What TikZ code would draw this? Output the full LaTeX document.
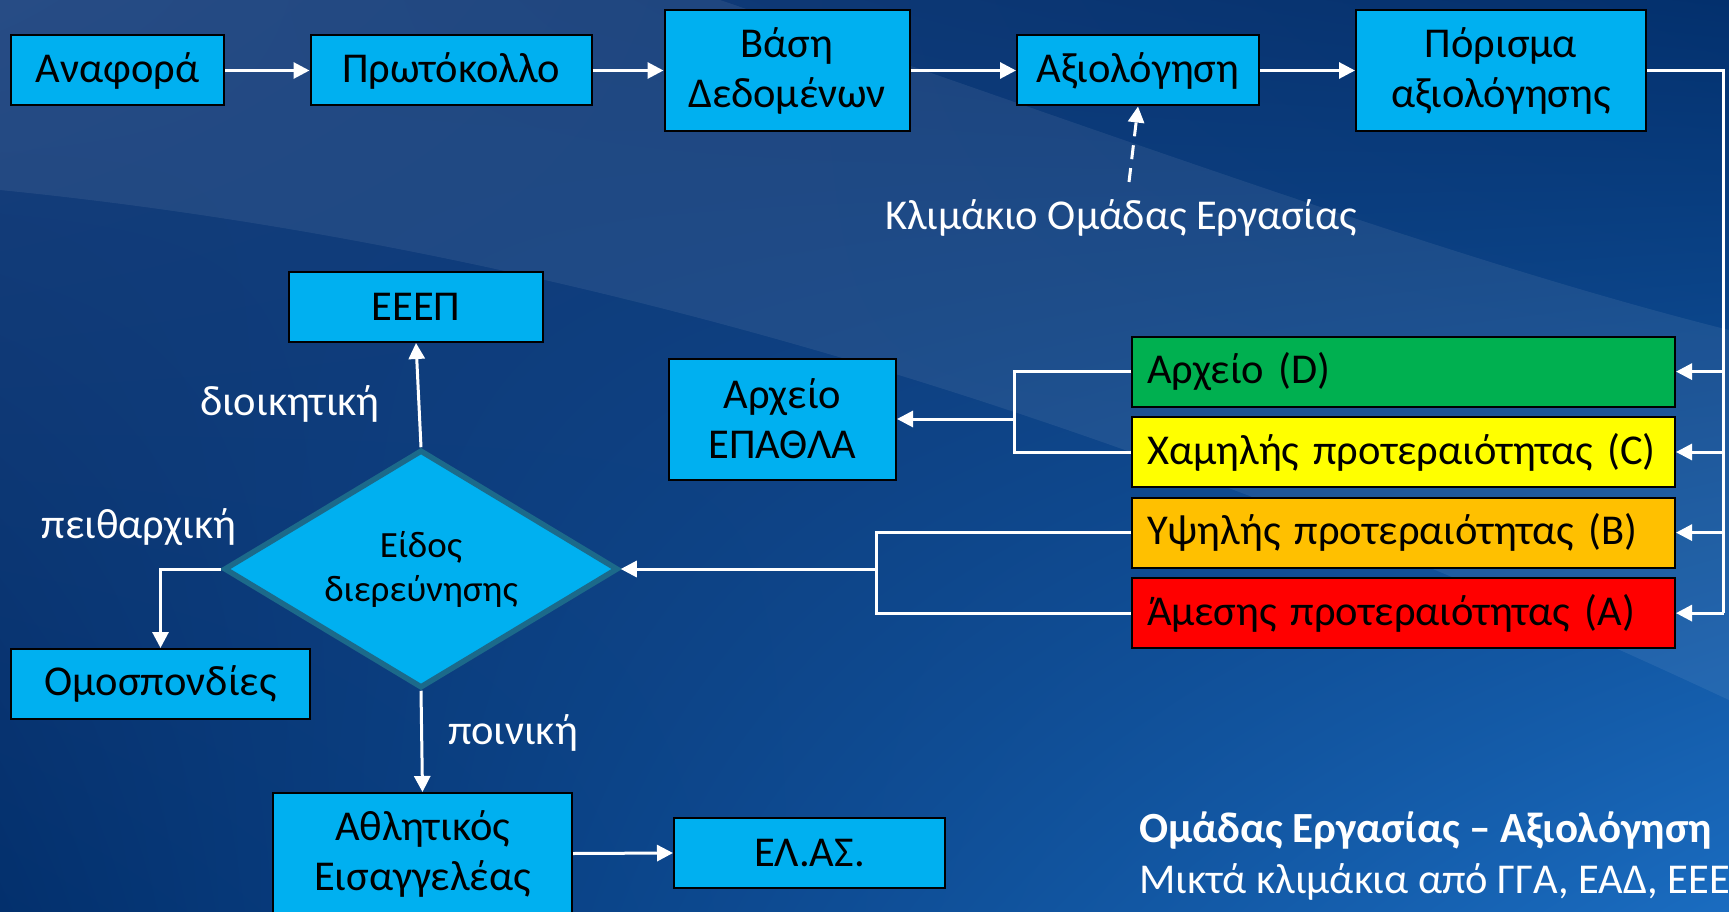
\documentclass[tikz,border=0pt]{standalone}
\usepackage{fontspec}
\setmainfont{Carlito}
\usetikzlibrary{arrows.meta,shapes.geometric,shadings}

\definecolor{bgnavy}{HTML}{03306D}
\definecolor{bgtop}{HTML}{173F7C}
\definecolor{bgbright}{HTML}{1A6CC0}
\definecolor{boxblue}{HTML}{00B0F0}
\definecolor{edgeteal}{HTML}{1C6A8A}
\definecolor{prioD}{HTML}{00B050}
\definecolor{prioC}{HTML}{FFFF00}
\definecolor{prioB}{HTML}{FFC000}
\definecolor{prioA}{HTML}{FF0000}

\begin{document}
\begin{tikzpicture}[x=1pt, y=-1pt,
    box/.style={draw=black, line width=2pt, fill=boxblue, inner sep=0pt,
        minimum height=70pt, align=center, font=\fontsize{42.5}{50}\selectfont},
    tallbox/.style={box, minimum height=121pt},
    priobox/.style={box, minimum width=543pt, text width=513pt, align=left},
    lbl/.style={text=white, font=\fontsize{42.5}{50}\selectfont},
    link/.style={draw=white, line width=3pt},
    conn/.style={link, -{Triangle[length=16pt, width=16pt]}}]

    % Background
    \useasboundingbox (0,0) rectangle (1729,912);
    \clip (0,0) rectangle (1729,912);
    \shade[upper left=bgtop, upper right=bgnavy, lower left=bgnavy, lower right=bgbright]
        (0,0) rectangle (1729,912);
    \fill[white, opacity=0.07] (0,0) -- (720,0)
        .. controls (1100,130) and (1450,260) .. (1729,330) -- (1729,700)
        .. controls (1300,500) and (700,260) .. (0,190) -- cycle;

    % Top row
    \node[box, minimum width=213pt] (anafora) at (117.5,70.5) {Αναφορά};
    \node[box, minimum width=281pt] (protokollo) at (451,70.5) {Πρωτόκολλο};
    \node[tallbox, minimum width=245pt] (vasi) at (787,70.5) {Βάση\\Δεδομένων};
    \node[box, minimum width=242pt] (axiologisi) at (1138,70.5) {Αξιολόγηση};
    \node[tallbox, minimum width=290pt] (porisma) at (1501,70.5) {Πόρισμα\\αξιολόγησης};

    \draw[conn] (anafora) -- (protokollo);
    \draw[conn] (protokollo) -- (vasi);
    \draw[conn] (vasi) -- (axiologisi);
    \draw[conn] (axiologisi) -- (porisma);

    % Working group
    \node[lbl] (klimakio) at (1121,218) {Κλιμάκιο Ομάδας Εργασίας};
    \coordinate (dashstart) at (1129,182);
    \draw[conn, dash pattern=on 14pt off 9pt] (dashstart) -- (axiologisi.south);

    % Priorities
    \node[priobox, fill=prioD] (prioD) at (1403.5,371.6) {Αρχείο (D)};
    \node[priobox, fill=prioC] (prioC) at (1403.5,452) {Χαμηλής προτεραιότητας (C)};
    \node[priobox, fill=prioB] (prioB) at (1403.5,532.6) {Υψηλής προτεραιότητας (B)};
    \node[priobox, fill=prioA] (prioA) at (1403.5,613.1) {Άμεσης προτεραιότητας (A)};

    \coordinate (busR) at (1723.5,70.5);
    \draw[link] (porisma.east) -- (busR) -- (busR |- prioA);
    \foreach \p in {prioD, prioC, prioB, prioA}
        \draw[conn] (busR |- \p) -- (\p.east);

    % Archive
    \node[tallbox, minimum width=227pt] (archeio) at (782.5,419) {Αρχείο\\ΕΠΑΘΛΑ};
    \coordinate (busA) at (1014.5,419);
    \draw[link] (prioD.west) -| (busA) |- (prioC.west);
    \draw[conn] (busA) -- (archeio.east);

    % Decision
    \node[diamond, aspect=1.66, draw=edgeteal, line width=5.5pt, fill=boxblue, inner sep=0pt,
        minimum width=394pt, minimum height=238pt, align=center,
        font=\fontsize{37}{44}\selectfont] (eidos) at (421,569) {Είδος\\διερεύνησης};
    \coordinate (busB) at (876.7,569);
    \draw[link] (prioB.west) -| (busB) |- (prioA.west);
    \draw[conn] (busB) -- (eidos.east);

    % Outcomes
    \node[box, minimum width=254pt] (eeep) at (416,307) {ΕΕΕΠ};
    \node[box, minimum width=299pt] (omospondies) at (160.5,684) {Ομοσπονδίες};
    \node[tallbox, minimum width=299pt] (athlitikos) at (422.5,853.5) {Αθλητικός\\Εισαγγελέας};
    \node[box, minimum width=271pt] (elas) at (809.5,853) {ΕΛ.ΑΣ.};

    \draw[conn] (eidos.north) -- (eeep.south);
    \draw[conn] (eidos.west) -| (omospondies.north);
    \draw[conn] (eidos.south) -- (athlitikos.north);
    \draw[conn] (athlitikos.east) -- (elas.west);

    \node[lbl] (dioikitiki) at (290,404) {διοικητική};
    \node[lbl] (peitharchiki) at (139,527) {πειθαρχική};
    \node[lbl] (poiniki) at (513,733) {ποινική};

    % Note
    \node[lbl, anchor=west, inner sep=0pt, font=\fontsize{43}{50}\selectfont\bfseries] (note) at (1139,831)
        {Ομάδας Εργασίας – Αξιολόγηση};
    \node[lbl, anchor=west, inner sep=0pt] (notesub) at (1139,882) {Μικτά κλιμάκια από ΓΓΑ, ΕΑΔ, ΕΕΕΠ};
\end{tikzpicture}
\end{document}
